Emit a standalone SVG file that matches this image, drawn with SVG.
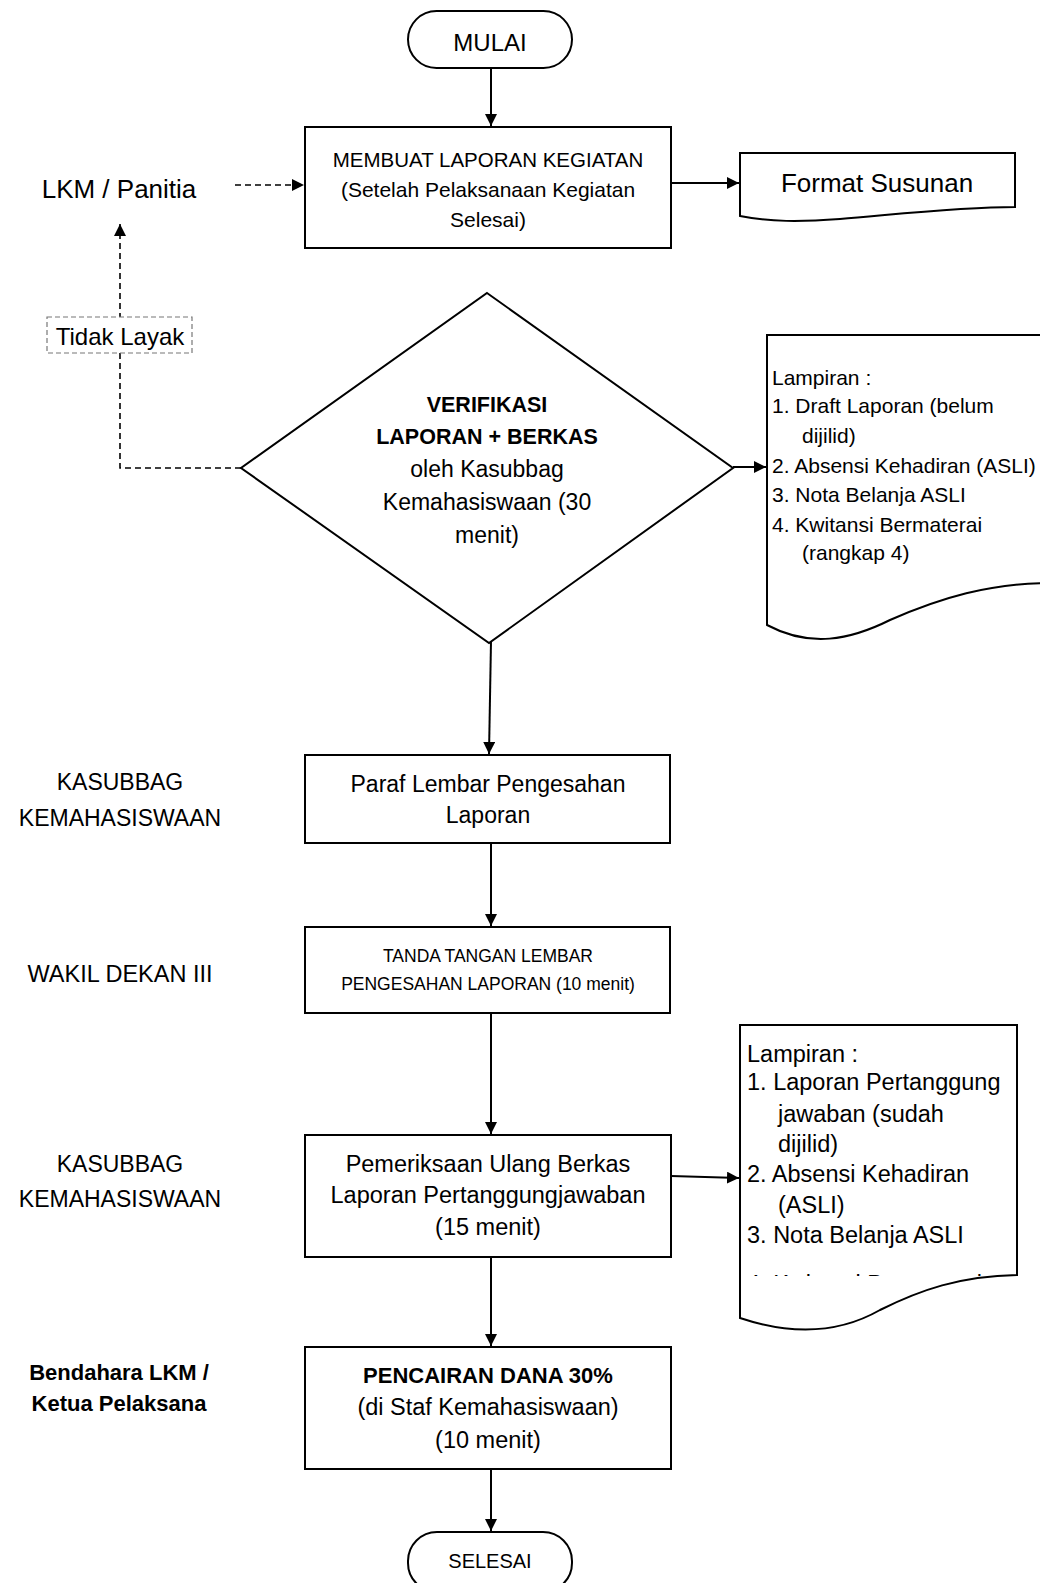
<svg xmlns="http://www.w3.org/2000/svg" width="1040" height="1583" viewBox="0 0 1040 1583">
<style>
text{font-family:"Liberation Sans",Arial,sans-serif;fill:#000}
.c{text-anchor:middle}
.b{font-weight:bold}
.box{fill:#fff;stroke:#000;stroke-width:2}
.ln{fill:none;stroke:#000;stroke-width:2}
.dash{fill:none;stroke:#000;stroke-width:1.6;stroke-dasharray:6,4}
</style>
<defs>
<marker id="ah" viewBox="0 0 12 12" refX="12" refY="6" markerWidth="12" markerHeight="12" markerUnits="userSpaceOnUse" orient="auto">
<path d="M0,0 L12,6 L0,12 z" fill="#000"/>
</marker>
<clipPath id="clip3"><rect x="740" y="1025" width="277" height="251"/></clipPath>
</defs>
<rect width="1040" height="1583" fill="#fff"/>

<g id="connectors">
<line class="ln" x1="491" y1="68" x2="491" y2="126" marker-end="url(#ah)"/>
<line class="dash" x1="235" y1="185" x2="304" y2="185" marker-end="url(#ah)"/>
<line class="ln" x1="671" y1="183" x2="739" y2="183" marker-end="url(#ah)"/>
<polyline class="dash" points="241,468 120,468 120,224" marker-end="url(#ah)"/>
<line class="ln" x1="733" y1="467" x2="766" y2="467" marker-end="url(#ah)"/>
<line class="ln" x1="491" y1="641" x2="489" y2="754" marker-end="url(#ah)"/>
<line class="ln" x1="491" y1="843" x2="491" y2="926" marker-end="url(#ah)"/>
<line class="ln" x1="491" y1="1013" x2="491" y2="1134" marker-end="url(#ah)"/>
<line class="ln" x1="671" y1="1176" x2="739" y2="1178" marker-end="url(#ah)"/>
<line class="ln" x1="491" y1="1257" x2="491" y2="1346" marker-end="url(#ah)"/>
<line class="ln" x1="491" y1="1469" x2="491" y2="1531" marker-end="url(#ah)"/>
</g>

<g id="mulai">
<rect class="box" x="408" y="11" width="164" height="57" rx="28.5"/>
<text class="c" x="490" y="51" font-size="24">MULAI</text>
</g>

<g id="lkm-panitia">
<text class="c" x="119" y="198" font-size="26">LKM / Panitia</text>
</g>

<g id="tidak-layak">
<rect x="47" y="317" width="145" height="36" fill="#fff" stroke="#777" stroke-width="1.2" stroke-dasharray="5,3"/>
<text class="c" x="120" y="345" font-size="24">Tidak Layak</text>
</g>

<g id="membuat-laporan">
<rect class="box" x="305" y="127" width="366" height="121"/>
<text class="c" x="488" y="167" font-size="20.5">MEMBUAT LAPORAN KEGIATAN</text>
<text class="c" x="488" y="197" font-size="21">(Setelah Pelaksanaan Kegiatan</text>
<text class="c" x="488" y="227" font-size="21">Selesai)</text>
</g>

<g id="format-susunan">
<path class="box" d="M740,153 H1015 V207 C960,207 900,214 840,219 C800,222 770,222 740,216 Z"/>
<text class="c" x="877" y="192" font-size="26">Format Susunan</text>
</g>

<g id="verifikasi">
<polygon class="box" points="487,293 733,468 489,643 241,468"/>
<text class="c b" x="487" y="412" font-size="21.5">VERIFIKASI</text>
<text class="c b" x="487" y="444" font-size="21.5">LAPORAN + BERKAS</text>
<text class="c" x="487" y="477" font-size="23">oleh Kasubbag</text>
<text class="c" x="487" y="510" font-size="23">Kemahasiswaan (30</text>
<text class="c" x="487" y="543" font-size="23">menit)</text>
</g>

<g id="lampiran-1">
<path class="box" d="M767,335 H1050 V583 C990,583 940,598 890,620 C850,640 810,648 767,625 Z"/>
<text x="772" y="385" font-size="21">Lampiran :</text>
<text x="772" y="413" font-size="21">1. Draft Laporan (belum</text>
<text x="802" y="443" font-size="21">dijilid)</text>
<text x="772" y="473" font-size="21">2. Absensi Kehadiran (ASLI)</text>
<text x="772" y="502" font-size="21">3. Nota Belanja ASLI</text>
<text x="772" y="532" font-size="21">4. Kwitansi Bermaterai</text>
<text x="802" y="560" font-size="21">(rangkap 4)</text>
</g>

<g id="label-kasubbag-1">
<text class="c" x="120" y="790" font-size="23">KASUBBAG</text>
<text class="c" x="120" y="826" font-size="23">KEMAHASISWAAN</text>
</g>

<g id="paraf">
<rect class="box" x="305" y="755" width="365" height="88"/>
<text class="c" x="488" y="792" font-size="23">Paraf Lembar Pengesahan</text>
<text class="c" x="488" y="823" font-size="23">Laporan</text>
</g>

<g id="label-wakil-dekan">
<text class="c" x="120" y="982" font-size="23.5">WAKIL DEKAN III</text>
</g>

<g id="tanda-tangan">
<rect class="box" x="305" y="927" width="365" height="86"/>
<text class="c" x="488" y="962" font-size="17.5">TANDA TANGAN LEMBAR</text>
<text class="c" x="488" y="990" font-size="17.5">PENGESAHAN LAPORAN (10 menit)</text>
</g>

<g id="label-kasubbag-2">
<text class="c" x="120" y="1172" font-size="23">KASUBBAG</text>
<text class="c" x="120" y="1207" font-size="23">KEMAHASISWAAN</text>
</g>

<g id="pemeriksaan">
<rect class="box" x="305" y="1135" width="366" height="122"/>
<text class="c" x="488" y="1172" font-size="23.5">Pemeriksaan Ulang Berkas</text>
<text class="c" x="488" y="1203" font-size="23.5">Laporan Pertanggungjawaban</text>
<text class="c" x="488" y="1235" font-size="23.5">(15 menit)</text>
</g>

<g id="lampiran-2">
<path class="box" d="M740,1025 H1017 V1275 C960,1276 920,1290 880,1310 C845,1330 800,1338 740,1318 Z"/>
<g clip-path="url(#clip3)">
<text x="747" y="1062" font-size="23.5">Lampiran :</text>
<text x="747" y="1090" font-size="23.5">1. Laporan Pertanggung</text>
<text x="778" y="1122" font-size="23.5">jawaban (sudah</text>
<text x="778" y="1152" font-size="23.5">dijilid)</text>
<text x="747" y="1182" font-size="23.5">2. Absensi Kehadiran</text>
<text x="778" y="1213" font-size="23.5">(ASLI)</text>
<text x="747" y="1243" font-size="23.5">3. Nota Belanja ASLI</text>
<text x="747" y="1292" font-size="23.5">4. Kwitansi Bermaterai</text>
</g>
</g>

<g id="label-bendahara">
<text class="c b" x="119" y="1380" font-size="22">Bendahara LKM /</text>
<text class="c b" x="119" y="1411" font-size="22">Ketua Pelaksana</text>
</g>

<g id="pencairan">
<rect class="box" x="305" y="1347" width="366" height="122"/>
<text class="c b" x="488" y="1383" font-size="22">PENCAIRAN DANA 30%</text>
<text class="c" x="488" y="1415" font-size="23.5">(di Staf Kemahasiswaan)</text>
<text class="c" x="488" y="1448" font-size="23.5">(10 menit)</text>
</g>

<g id="selesai">
<rect class="box" x="408" y="1532" width="164" height="60" rx="29"/>
<text class="c" x="490" y="1568" font-size="20">SELESAI</text>
</g>
</svg>
